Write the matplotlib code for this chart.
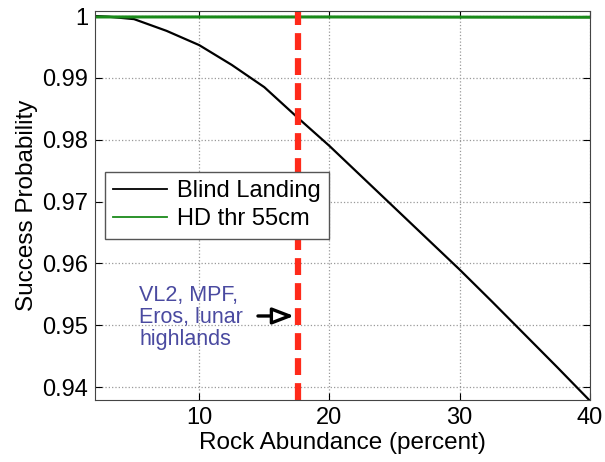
import numpy as np
import matplotlib
matplotlib.use('Agg')
import matplotlib.pyplot as plt

plt.rcParams['font.family'] = ['Liberation Sans', 'DejaVu Sans']

# data
rock = [2, 3, 5, 7.5, 10, 12.5, 15, 17.6, 20, 22.5, 25, 27.5, 30, 32.5, 35, 37.5, 40]
blind = [1.0, 0.9999, 0.9995, 0.9976, 0.9953, 0.9921, 0.9885, 0.9835, 0.9790,
         0.9740, 0.9690, 0.9640, 0.9590, 0.9538, 0.9485, 0.9432, 0.9378]
hd_rock = [2, 20, 40]
hd_thr = [0.99985, 0.99985, 0.9998]
site_rock = 17.6
site_label = 'VL2, MPF,\nEros, lunar\nhighlands'

fig = plt.figure(figsize=(6.05, 4.62), dpi=100)
ax = fig.add_axes([0.157, 0.134, 0.818, 0.842])

ax.plot(rock, blind, color='black', lw=1.6, label='Blind Landing')
ax.plot(hd_rock, hd_thr, color='#1a8a1a', lw=2.2, label='HD thr 55cm')
ax.axvline(site_rock, color='#ff2a1a', lw=4.5, dashes=(2.7, 1.3))

ax.annotate('', xy=(site_rock - 0.1, 0.9515), xytext=(14.3, 0.9515),
            arrowprops=dict(arrowstyle='-|>,head_length=1.3,head_width=0.5',
                            lw=2.4, color='black', fc='white'))
ax.text(5.4, 0.9513, site_label, color='#4a4aa0', fontsize=15.5,
        va='center', ha='left', linespacing=1.05)

ax.set_xlim(2, 40)
ax.set_ylim(0.9379, 1.0008)
ax.set_xticks([10, 20, 30, 40])
ax.set_yticks([0.94, 0.95, 0.96, 0.97, 0.98, 0.99, 1.0])
ax.set_yticklabels(['0.94', '0.95', '0.96', '0.97', '0.98', '0.99', '1'])
ax.tick_params(direction='in', top=True, right=True, labelsize=17, length=5, pad=5)
ax.grid(True, ls=':', color='#999999', lw=0.9)
for s in ax.spines.values():
    s.set_color('#444444')

ax.set_xlabel('Rock Abundance (percent)', fontsize=17.5, labelpad=2)
ax.set_ylabel('Success Probability', fontsize=17.5, labelpad=3)

leg = ax.legend(loc='upper left', bbox_to_anchor=(0.02, 0.586), borderaxespad=0,
                fontsize=17, fancybox=False, edgecolor='#555555', framealpha=1,
                handlelength=2.3, borderpad=0.35, labelspacing=0.25, handletextpad=0.4)
leg.get_frame().set_linewidth(1.0)
for h in leg.get_lines():
    h.set_linewidth(1.3)

fig.savefig('out.png', dpi=100)
